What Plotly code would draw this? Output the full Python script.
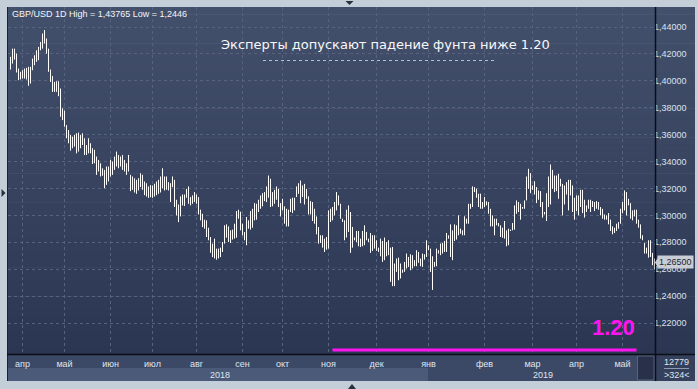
import plotly.graph_objects as go

# ---------------- data ----------------
title_text = "GBP/USD 1D High = 1,43765 Low = 1,2446"
headline = "Эксперты допускают падение фунта ниже 1.20"
target_text = "1.20"
target_level = 1.20
target_start_index = 161
target_end_index = 313
last_price = 1.2650
last_price_text = "1,26500"
bar_total_text = "12779"
visible_bars_text = ">324<"

month_labels = ["апр", "май", "июн", "июл", "авг", "сен", "окт", "ноя",
                "дек", "янв", "фев", "мар", "апр", "май"]
month_bar_index = [6, 27, 50, 71, 93, 116, 136, 159, 183, 209, 237, 261, 283, 306]
year_labels = ["2018", "2019"]
year_label_index = [104.75, 266.25]
year_2019_start_index = 209

price_ticks = [1.22, 1.24, 1.26, 1.28, 1.30, 1.32, 1.34, 1.36, 1.38, 1.40, 1.42, 1.44]
price_tick_text = ["1,22000", "1,24000", "1,26000", "1,28000", "1,30000", "1,32000",
                   "1,34000", "1,36000", "1,38000", "1,40000", "1,42000", "1,44000"]

highs_a = [1.4178, 1.4239, 1.4239, 1.4202, 1.4091, 1.4067, 1.4079, 1.4091, 1.4096, 1.4104,
           1.4104, 1.4165, 1.4190, 1.4227, 1.4252, 1.4289, 1.4351, 1.4377, 1.4314, 1.4239,
           1.4084, 1.4035, 1.3992, 1.3997, 1.3997, 1.3943, 1.3795, 1.3778, 1.3671, 1.3634,
           1.3597, 1.3585, 1.3597, 1.3610, 1.3615, 1.3597, 1.3610, 1.3573, 1.3523, 1.3573,
           1.3536, 1.3499, 1.3487, 1.3437, 1.3412, 1.3387, 1.3350, 1.3338, 1.3363, 1.3363,
           1.3412, 1.3400, 1.3437, 1.3474, 1.3449, 1.3437, 1.3449, 1.3412, 1.3387, 1.3449,
           1.3301, 1.3289, 1.3276, 1.3264, 1.3276, 1.3313, 1.3301, 1.3252, 1.3239, 1.3215,
           1.3225, 1.3222, 1.3235, 1.3252, 1.3264, 1.3289, 1.3350, 1.3289]
lows_a = [1.4084, 1.4128, 1.4158, 1.4062, 1.4005, 1.4010, 1.4017, 1.4017, 1.4010, 1.3963,
          1.3980, 1.4079, 1.4116, 1.4141, 1.4153, 1.4227, 1.4239, 1.4277, 1.4202, 1.4067,
          1.3992, 1.3918, 1.3918, 1.3918, 1.3886, 1.3733, 1.3708, 1.3659, 1.3573, 1.3536,
          1.3481, 1.3499, 1.3511, 1.3461, 1.3474, 1.3499, 1.3523, 1.3449, 1.3449, 1.3461,
          1.3461, 1.3382, 1.3387, 1.3301, 1.3326, 1.3289, 1.3294, 1.3202, 1.3227, 1.3252,
          1.3289, 1.3301, 1.3338, 1.3363, 1.3350, 1.3363, 1.3338, 1.3326, 1.3301, 1.3326,
          1.3180, 1.3190, 1.3170, 1.3160, 1.3185, 1.3210, 1.3190, 1.3150, 1.3140, 1.3130,
          1.3135, 1.3130, 1.3140, 1.3150, 1.3160, 1.3170, 1.3200, 1.3185]

highs_b = [1.3289, 1.3247, 1.3239, 1.3289, 1.3264, 1.3116, 1.3081, 1.3141, 1.3155, 1.3155,
           1.3197, 1.3215, 1.3136, 1.3148, 1.3173, 1.3155, 1.3136, 1.3042, 1.3012, 1.2968,
           1.2963, 1.2908, 1.2839, 1.2790, 1.2827, 1.2753, 1.2753, 1.2760, 1.2802, 1.2926,
           1.2933, 1.2918, 1.2889, 1.2894, 1.2938, 1.3032, 1.3042, 1.3027, 1.2938, 1.2876,
           1.2988, 1.2963, 1.3032, 1.3049, 1.3091, 1.3086, 1.3116, 1.3148, 1.3165, 1.3173,
           1.3215, 1.3296, 1.3272, 1.3173, 1.3190, 1.3215, 1.3197, 1.3091, 1.3123, 1.3067,
           1.3049, 1.3042, 1.3123, 1.3131, 1.3131, 1.3215, 1.3239, 1.3259, 1.3222, 1.3234,
           1.3197, 1.3141, 1.3106, 1.3099, 1.3049, 1.2992, 1.2913, 1.2852, 1.2852, 1.2827,
           1.2839, 1.3037]
lows_b = [1.3190, 1.3185, 1.3099, 1.3210, 1.3062, 1.3000, 1.2950, 1.2992, 1.3074, 1.3069,
          1.3131, 1.3086, 1.3074, 1.3086, 1.3099, 1.3086, 1.3007, 1.2963, 1.2913, 1.2901,
          1.2839, 1.2815, 1.2721, 1.2690, 1.2680, 1.2670, 1.2680, 1.2690, 1.2728, 1.2790,
          1.2834, 1.2802, 1.2795, 1.2820, 1.2827, 1.2834, 1.2975, 1.2889, 1.2852, 1.2815,
          1.2778, 1.2901, 1.2894, 1.2908, 1.2963, 1.2968, 1.3025, 1.3049, 1.3067, 1.3106,
          1.3099, 1.3131, 1.3062, 1.3067, 1.3086, 1.3116, 1.3062, 1.2992, 1.3037, 1.2938,
          1.2918, 1.2918, 1.3025, 1.3017, 1.3037, 1.3136, 1.3160, 1.3091, 1.3136, 1.3081,
          1.3123, 1.3007, 1.3007, 1.2958, 1.2938, 1.2859, 1.2790, 1.2795, 1.2760, 1.2728,
          1.2745, 1.2753]

highs_c = [1.3049, 1.3062, 1.3099, 1.3173, 1.3148, 1.3086, 1.2975, 1.2963, 1.3042, 1.3074,
           1.3025, 1.2914, 1.2835, 1.2884, 1.2884, 1.2827, 1.2884, 1.2926, 1.2877, 1.2827,
           1.2869, 1.2852, 1.2852, 1.2815, 1.2760, 1.2827, 1.2810, 1.2835, 1.2802, 1.2815,
           1.2760, 1.2765, 1.2642, 1.2679, 1.2686, 1.2642, 1.2597, 1.2654, 1.2716, 1.2691,
           1.2711, 1.2704, 1.2667, 1.2741, 1.2728, 1.2679, 1.2716, 1.2711, 1.2815, 1.2778,
           1.2753, 1.2696, 1.2654, 1.2753, 1.2741, 1.2790, 1.2795, 1.2810, 1.2869, 1.2852,
           1.2933, 1.2889, 1.2933, 1.2926, 1.3000, 1.2901, 1.2889, 1.2993, 1.2975, 1.3086,
           1.3086, 1.3215, 1.3210, 1.3198, 1.3161, 1.3161, 1.3099, 1.3136, 1.3104, 1.3099]
lows_c = [1.2951, 1.2963, 1.3000, 1.3037, 1.3074, 1.2975, 1.2951, 1.2815, 1.2835, 1.2877,
          1.2721, 1.2760, 1.2815, 1.2802, 1.2770, 1.2765, 1.2770, 1.2778, 1.2815, 1.2802,
          1.2721, 1.2736, 1.2753, 1.2736, 1.2728, 1.2696, 1.2654, 1.2667, 1.2696, 1.2704,
          1.2506, 1.2474, 1.2474, 1.2580, 1.2518, 1.2531, 1.2573, 1.2580, 1.2605, 1.2617,
          1.2592, 1.2605, 1.2622, 1.2622, 1.2647, 1.2622, 1.2617, 1.2671, 1.2691, 1.2741,
          1.2580, 1.2446, 1.2617, 1.2622, 1.2716, 1.2704, 1.2716, 1.2728, 1.2728, 1.2827,
          1.2691, 1.2667, 1.2810, 1.2820, 1.2852, 1.2864, 1.2852, 1.2852, 1.2938, 1.2938,
          1.3049, 1.3062, 1.3173, 1.3131, 1.3062, 1.3049, 1.3049, 1.3062, 1.3074, 1.3012]

highs_d = [1.3049, 1.3000, 1.2975, 1.2975, 1.2943, 1.2926, 1.2908, 1.2958, 1.2889, 1.2901,
           1.2894, 1.2943, 1.3074, 1.3111, 1.3099, 1.3086, 1.3062, 1.3111, 1.3289, 1.3346,
           1.3314, 1.3222, 1.3254, 1.3210, 1.3185, 1.3180, 1.3099, 1.3025, 1.3165, 1.3289,
           1.3378, 1.3338, 1.3296, 1.3296, 1.3309, 1.3272, 1.3234, 1.3222, 1.3247, 1.3264,
           1.3264, 1.3222, 1.3131, 1.3148, 1.3148, 1.3190, 1.3190, 1.3116, 1.3074, 1.3116,
           1.3116, 1.3106, 1.3099, 1.3106, 1.3099, 1.3062, 1.3049, 1.3007, 1.3000, 1.3017,
           1.2968, 1.2918, 1.2908, 1.2938, 1.2950, 1.3049, 1.3099, 1.3185, 1.3173, 1.3123,
           1.3091, 1.3037, 1.3042, 1.3042, 1.2968, 1.2933, 1.2852, 1.2795, 1.2760, 1.2815,
           1.2815, 1.2721, 1.2679]
lows_d = [1.2918, 1.2918, 1.2852, 1.2926, 1.2918, 1.2839, 1.2834, 1.2827, 1.2770, 1.2778,
          1.2884, 1.2889, 1.2894, 1.3012, 1.3025, 1.2968, 1.3049, 1.3049, 1.3111, 1.3197,
          1.3165, 1.3190, 1.3155, 1.3091, 1.3116, 1.3062, 1.2983, 1.3007, 1.2958, 1.3062,
          1.3081, 1.3197, 1.3173, 1.3180, 1.3123, 1.3215, 1.3000, 1.3081, 1.3155, 1.3037,
          1.3148, 1.3025, 1.2968, 1.3032, 1.3000, 1.3062, 1.3017, 1.2983, 1.3025, 1.3049,
          1.3025, 1.3062, 1.3032, 1.3049, 1.3042, 1.3000, 1.2975, 1.2968, 1.2968, 1.2933,
          1.2884, 1.2859, 1.2869, 1.2884, 1.2901, 1.2938, 1.3017, 1.3037, 1.3000, 1.3074,
          1.2975, 1.2963, 1.2992, 1.2938, 1.2908, 1.2827, 1.2815, 1.2716, 1.2716, 1.2686,
          1.2691, 1.2629, 1.2597]

highs = highs_a + highs_b + highs_c + highs_d
lows = lows_a + lows_b + lows_c + lows_d

# ---------------- layout helpers ----------------
W, H = 698, 389
PL, PR, PT, PB = 8, 655, 7, 354          # plot area in pixels
def px(x):
    return x / W
def py(y):
    return 1 - y / H

FONT = "Liberation Sans, Arial, sans-serif"
OUTER = "#c3ced9"

fig = go.Figure()

bx, by = [], []
for i, (h, l) in enumerate(zip(highs, lows)):
    bx += [i, i, None]
    by += [l, h, None]
fig.add_trace(go.Scatter(x=bx, y=by, mode="lines", line=dict(color="#ffffff", width=1),
                         hoverinfo="skip", showlegend=False))
fig.add_trace(go.Scatter(x=[target_start_index, target_end_index],
                         y=[target_level, target_level], mode="lines",
                         line=dict(color="#ff14f0", width=3), hoverinfo="skip",
                         showlegend=False))

shapes = []
# gradient background panel
top_c = (0x43, 0x50, 0x6c)
bot_c = (0x2b, 0x36, 0x52)
n = 48
for k in range(n):
    y0 = PT + (PB - PT) * k / n
    y1 = PT + (PB - PT) * (k + 1) / n + 0.6
    t = (k + 0.5) / n
    c = tuple(round(a + (b - a) * t) for a, b in zip(top_c, bot_c))
    shapes.append(dict(type="rect", xref="paper", yref="paper", x0=px(7), x1=px(695),
                       y0=py(min(y1, PB)), y1=py(y0), fillcolor="rgb(%d,%d,%d)" % c,
                       line=dict(width=0), layer="below"))
# bottom strips
shapes.append(dict(type="rect", xref="paper", yref="paper", x0=px(7), x1=px(695),
                   y0=py(381), y1=py(PB), fillcolor="#3c4966", line=dict(width=0), layer="below"))
shapes.append(dict(type="rect", xref="x", yref="paper", x0=-1.25, x1=year_2019_start_index - 0.25,
                   y0=py(381), y1=py(368), fillcolor="#4b5a78", line=dict(width=0), layer="below"))
shapes.append(dict(type="rect", xref="paper", yref="paper", x0=px(PR), x1=px(695),
                   y0=py(381), y1=py(PB), fillcolor="#34405c", line=dict(width=0), layer="below"))
shapes.append(dict(type="rect", xref="paper", yref="paper", x0=px(637.5), x1=px(654),
                   y0=py(380), y1=py(356), fillcolor="#283149",
                   line=dict(width=1, color="#56627c"), layer="below"))
# frame lines
shapes.append(dict(type="line", xref="paper", yref="paper", x0=px(7.5), x1=px(7.5),
                   y0=py(381), y1=py(7), line=dict(color="#1b2232", width=1)))
shapes.append(dict(type="line", xref="paper", yref="paper", x0=px(PR + 0.5), x1=px(PR + 0.5),
                   y0=py(381), y1=py(7), line=dict(color="#0b0e16", width=1.5)))
shapes.append(dict(type="line", xref="paper", yref="paper", x0=px(7), x1=px(695),
                   y0=py(PB + 0.5), y1=py(PB + 0.5), line=dict(color="#0b0e16", width=1.5)))
shapes.append(dict(type="line", xref="paper", yref="paper", x0=px(664), x1=px(689),
                   y0=py(368.5), y1=py(368.5), line=dict(color="#8e9ab0", width=1)))
# dotted underline of headline
shapes.append(dict(type="line", xref="paper", yref="paper", x0=px(263), x1=px(494),
                   y0=py(60.5), y1=py(60.5), line=dict(color="#b9bfca", width=1, dash="dot")))
# small navigation triangles in the outer frame
shapes.append(dict(type="path", xref="paper", yref="paper",
                   path="M %f %f L %f %f L %f %f Z" % (px(1.5), py(189), px(5.5), py(193), px(1.5), py(197)),
                   fillcolor="#27303f", line=dict(width=0)))
shapes.append(dict(type="path", xref="paper", yref="paper",
                   path="M %f %f L %f %f L %f %f Z" % (px(345.5), py(1), px(353.5), py(1), px(349.5), py(5)),
                   fillcolor="#27303f", line=dict(width=0)))
shapes.append(dict(type="path", xref="paper", yref="paper",
                   path="M %f %f L %f %f L %f %f Z" % (px(348), py(389), px(356), py(389), px(352), py(384)),
                   fillcolor="#27303f", line=dict(width=0)))
# last price arrow
shapes.append(dict(type="path", xref="paper", yref="y",
                   path="M %f %f L %f %f L %f %f Z" % (px(655), last_price, px(658.5), last_price + 0.0045,
                                                         px(658.5), last_price - 0.0045),
                   fillcolor="#c9ced6", line=dict(width=0)))

annotations = [
    dict(text=title_text, xref="paper", yref="paper", x=px(10), y=py(14), xanchor="left",
         yanchor="middle", showarrow=False, font=dict(family=FONT, size=9, color="#f2f5f9")),
    dict(text=headline, xref="paper", yref="paper", x=px(385.5), y=py(44), xanchor="center",
         yanchor="middle", showarrow=False, font=dict(family="DejaVu Sans", size=13, color="#f7f8fa")),
    dict(text="<b>%s</b>" % target_text, xref="paper", yref="paper", x=px(613.5), y=py(327),
         xanchor="center", yanchor="middle", showarrow=False,
         font=dict(family=FONT, size=22, color="#ff14f0")),
    dict(text=last_price_text, xref="paper", yref="y", x=px(675), y=last_price, xanchor="center",
         yanchor="middle", showarrow=False, bgcolor="#c9ced6", borderpad=1,
         font=dict(family=FONT, size=9, color="#1d2330")),
    dict(text=bar_total_text, xref="paper", yref="paper", x=px(676.5), y=py(362), xanchor="center",
         yanchor="middle", showarrow=False, font=dict(family=FONT, size=9, color="#dfe6ef")),
    dict(text=visible_bars_text, xref="paper", yref="paper", x=px(676.5), y=py(374.5), xanchor="center",
         yanchor="middle", showarrow=False, font=dict(family=FONT, size=9, color="#dfe6ef")),
]
for lab, xi in zip(year_labels, year_label_index):
    annotations.append(dict(text=lab, xref="x", yref="paper", x=xi, y=py(374.5), xanchor="center",
                            yanchor="middle", showarrow=False,
                            font=dict(family=FONT, size=9, color="#dfe6ef")))

fig.update_layout(
    width=W, height=H, autosize=False,
    margin=dict(l=0, r=0, t=0, b=0, pad=0),
    paper_bgcolor=OUTER, plot_bgcolor="rgba(0,0,0,0)",
    showlegend=False, hovermode=False,
    shapes=shapes, annotations=annotations,
    xaxis=dict(domain=[px(PL), px(PR)], range=[-1.25, 322.25], tickmode="array",
               tickvals=month_bar_index, ticktext=month_labels, showgrid=True,
               gridcolor="#56637e", griddash="3px,3px", gridwidth=1, zeroline=False,
               showline=False, ticks="", ticklabelstandoff=3,
               tickfont=dict(family=FONT, size=9, color="#dfe6ef"), fixedrange=True),
    yaxis=dict(domain=[py(PB), py(PT)], range=[1.196959, 1.454865], side="right",
               tickmode="array", tickvals=price_ticks, ticktext=price_tick_text,
               showgrid=True, gridcolor="#56637e", griddash="3px,3px", gridwidth=1,
               zeroline=False, showline=False, ticks="", ticklabelstandoff=-2,
               tickfont=dict(family=FONT, size=9, color="#d9e2ee"), fixedrange=True),
)

fig.write_html("out.html")
